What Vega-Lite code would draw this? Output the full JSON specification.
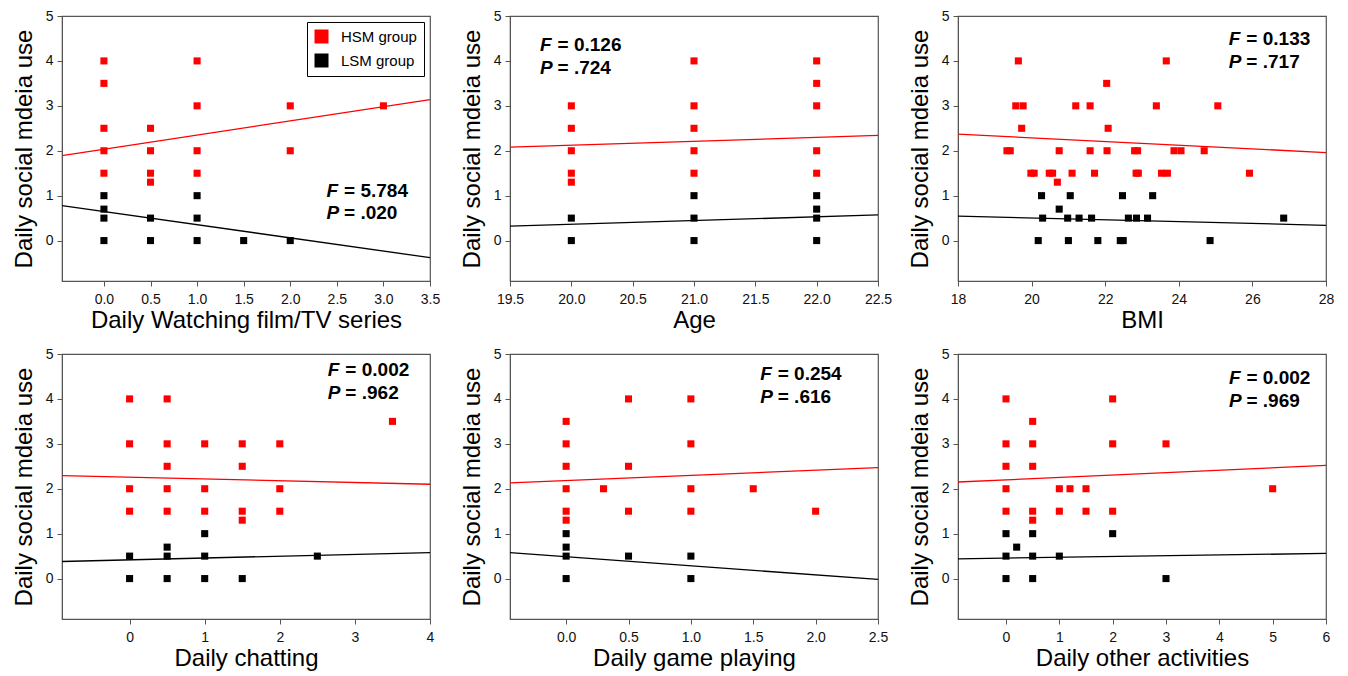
{
  "$schema": "https://vega.github.io/schema/vega-lite/v6.json",
  "padding": {"left": 11, "top": 8, "right": 5, "bottom": 5},
  "config": {
    "font": "Liberation Sans",
    "view": {"stroke": "#555", "strokeWidth": 1.2},
    "axis": {"grid": false, "domainColor": "#555", "tickColor": "#555", "tickSize": 5, "labelFontSize": 14, "labelColor": "#111", "titleFontSize": 24, "titleFontWeight": "normal", "titleColor": "#000", "labelFont": "Liberation Sans", "titleFont": "Liberation Sans", "labelOverlap": false, "labelFlush": false},
    "axisX": {"labelPadding": 6, "titlePadding": 2},
    "axisY": {"labelPadding": 4, "titlePadding": 9},
    "text": {"font": "Liberation Sans"}
  },
  "datasets": {
    "film": [
      {"group": "LSM group", "x": 0, "y": 1}, {"group": "LSM group", "x": 0, "y": 0.7}, {"group": "LSM group", "x": 0, "y": 0.5}, {"group": "LSM group", "x": 0, "y": 0},
      {"group": "LSM group", "x": 0.5, "y": 0.5}, {"group": "LSM group", "x": 0.5, "y": 0}, {"group": "LSM group", "x": 1, "y": 1}, {"group": "LSM group", "x": 1, "y": 0.5},
      {"group": "LSM group", "x": 1, "y": 0}, {"group": "LSM group", "x": 1.5, "y": 0}, {"group": "LSM group", "x": 2, "y": 0},
      {"group": "HSM group", "x": 0, "y": 4}, {"group": "HSM group", "x": 0, "y": 3.5}, {"group": "HSM group", "x": 0, "y": 2.5}, {"group": "HSM group", "x": 0, "y": 2},
      {"group": "HSM group", "x": 0, "y": 1.5}, {"group": "HSM group", "x": 0.5, "y": 2.5}, {"group": "HSM group", "x": 0.5, "y": 2}, {"group": "HSM group", "x": 0.5, "y": 1.5},
      {"group": "HSM group", "x": 0.5, "y": 1.3}, {"group": "HSM group", "x": 1, "y": 4}, {"group": "HSM group", "x": 1, "y": 3}, {"group": "HSM group", "x": 1, "y": 2},
      {"group": "HSM group", "x": 1, "y": 1.5}, {"group": "HSM group", "x": 2, "y": 3}, {"group": "HSM group", "x": 2, "y": 2}, {"group": "HSM group", "x": 3, "y": 3}
    ],
    "film_l": [
      {"group": "HSM group", "x": -0.45, "y": 1.89}, {"group": "HSM group", "x": 3.5, "y": 3.14},
      {"group": "LSM group", "x": -0.45, "y": 0.78}, {"group": "LSM group", "x": 3.5, "y": -0.38}
    ],
    "age": [
      {"group": "LSM group", "x": 20, "y": 0.5}, {"group": "LSM group", "x": 20, "y": 0}, {"group": "LSM group", "x": 21, "y": 1}, {"group": "LSM group", "x": 21, "y": 0.5},
      {"group": "LSM group", "x": 21, "y": 0}, {"group": "LSM group", "x": 22, "y": 1}, {"group": "LSM group", "x": 22, "y": 0.7}, {"group": "LSM group", "x": 22, "y": 0.5},
      {"group": "LSM group", "x": 22, "y": 0},
      {"group": "HSM group", "x": 20, "y": 3}, {"group": "HSM group", "x": 20, "y": 2.5}, {"group": "HSM group", "x": 20, "y": 2}, {"group": "HSM group", "x": 20, "y": 1.5},
      {"group": "HSM group", "x": 20, "y": 1.3}, {"group": "HSM group", "x": 21, "y": 4}, {"group": "HSM group", "x": 21, "y": 3}, {"group": "HSM group", "x": 21, "y": 2.5},
      {"group": "HSM group", "x": 21, "y": 2}, {"group": "HSM group", "x": 21, "y": 1.5}, {"group": "HSM group", "x": 22, "y": 4}, {"group": "HSM group", "x": 22, "y": 3.5},
      {"group": "HSM group", "x": 22, "y": 3}, {"group": "HSM group", "x": 22, "y": 2}, {"group": "HSM group", "x": 22, "y": 1.5}
    ],
    "age_l": [
      {"group": "HSM group", "x": 19.5, "y": 2.08}, {"group": "HSM group", "x": 22.5, "y": 2.34},
      {"group": "LSM group", "x": 19.5, "y": 0.32}, {"group": "LSM group", "x": 22.5, "y": 0.57}
    ],
    "bmi": [
      {"group": "LSM group", "x": 20.27, "y": 1}, {"group": "LSM group", "x": 20.3, "y": 0.5}, {"group": "LSM group", "x": 20.18, "y": 0}, {"group": "LSM group", "x": 20.75, "y": 0.7},
      {"group": "LSM group", "x": 21.05, "y": 1}, {"group": "LSM group", "x": 20.98, "y": 0.5}, {"group": "LSM group", "x": 21.0, "y": 0}, {"group": "LSM group", "x": 21.29, "y": 0.5},
      {"group": "LSM group", "x": 21.63, "y": 0.5}, {"group": "LSM group", "x": 21.8, "y": 0}, {"group": "LSM group", "x": 22.47, "y": 1}, {"group": "LSM group", "x": 22.41, "y": 0},
      {"group": "LSM group", "x": 22.49, "y": 0}, {"group": "LSM group", "x": 22.63, "y": 0.5}, {"group": "LSM group", "x": 22.85, "y": 0.5}, {"group": "LSM group", "x": 23.15, "y": 0.5},
      {"group": "LSM group", "x": 23.29, "y": 1}, {"group": "LSM group", "x": 24.85, "y": 0}, {"group": "LSM group", "x": 26.85, "y": 0.5},
      {"group": "HSM group", "x": 19.33, "y": 2}, {"group": "HSM group", "x": 19.42, "y": 2}, {"group": "HSM group", "x": 19.64, "y": 4}, {"group": "HSM group", "x": 19.57, "y": 3},
      {"group": "HSM group", "x": 19.77, "y": 3}, {"group": "HSM group", "x": 19.73, "y": 2.5}, {"group": "HSM group", "x": 19.98, "y": 1.5}, {"group": "HSM group", "x": 20.07, "y": 1.5},
      {"group": "HSM group", "x": 20.48, "y": 1.5}, {"group": "HSM group", "x": 20.57, "y": 1.5}, {"group": "HSM group", "x": 20.7, "y": 1.3}, {"group": "HSM group", "x": 20.75, "y": 2},
      {"group": "HSM group", "x": 21.1, "y": 1.5}, {"group": "HSM group", "x": 21.2, "y": 3}, {"group": "HSM group", "x": 21.59, "y": 3}, {"group": "HSM group", "x": 21.59, "y": 2},
      {"group": "HSM group", "x": 21.71, "y": 1.5}, {"group": "HSM group", "x": 22.04, "y": 3.5}, {"group": "HSM group", "x": 22.08, "y": 2.5}, {"group": "HSM group", "x": 22.05, "y": 2},
      {"group": "HSM group", "x": 22.8, "y": 2}, {"group": "HSM group", "x": 22.88, "y": 2}, {"group": "HSM group", "x": 22.84, "y": 1.5}, {"group": "HSM group", "x": 22.9, "y": 1.5},
      {"group": "HSM group", "x": 23.39, "y": 3}, {"group": "HSM group", "x": 23.66, "y": 4}, {"group": "HSM group", "x": 23.53, "y": 1.5}, {"group": "HSM group", "x": 23.69, "y": 1.5},
      {"group": "HSM group", "x": 23.87, "y": 2}, {"group": "HSM group", "x": 24.06, "y": 2}, {"group": "HSM group", "x": 24.69, "y": 2}, {"group": "HSM group", "x": 25.06, "y": 3},
      {"group": "HSM group", "x": 25.92, "y": 1.5}
    ],
    "bmi_l": [
      {"group": "HSM group", "x": 18, "y": 2.37}, {"group": "HSM group", "x": 28, "y": 1.96},
      {"group": "LSM group", "x": 18, "y": 0.545}, {"group": "LSM group", "x": 28, "y": 0.34}
    ],
    "chat": [
      {"group": "LSM group", "x": 0, "y": 0.5}, {"group": "LSM group", "x": 0, "y": 0}, {"group": "LSM group", "x": 0.5, "y": 0.7}, {"group": "LSM group", "x": 0.5, "y": 0.5},
      {"group": "LSM group", "x": 0.5, "y": 0}, {"group": "LSM group", "x": 1, "y": 1}, {"group": "LSM group", "x": 1, "y": 0.5}, {"group": "LSM group", "x": 1, "y": 0},
      {"group": "LSM group", "x": 1.5, "y": 0}, {"group": "LSM group", "x": 2.5, "y": 0.5},
      {"group": "HSM group", "x": 0, "y": 4}, {"group": "HSM group", "x": 0, "y": 3}, {"group": "HSM group", "x": 0, "y": 2}, {"group": "HSM group", "x": 0, "y": 1.5},
      {"group": "HSM group", "x": 0.5, "y": 4}, {"group": "HSM group", "x": 0.5, "y": 3}, {"group": "HSM group", "x": 0.5, "y": 2.5}, {"group": "HSM group", "x": 0.5, "y": 2},
      {"group": "HSM group", "x": 0.5, "y": 1.5}, {"group": "HSM group", "x": 1, "y": 3}, {"group": "HSM group", "x": 1, "y": 2}, {"group": "HSM group", "x": 1, "y": 1.5},
      {"group": "HSM group", "x": 1.5, "y": 3}, {"group": "HSM group", "x": 1.5, "y": 2.5}, {"group": "HSM group", "x": 1.5, "y": 1.5}, {"group": "HSM group", "x": 1.5, "y": 1.3},
      {"group": "HSM group", "x": 2, "y": 3}, {"group": "HSM group", "x": 2, "y": 2}, {"group": "HSM group", "x": 2, "y": 1.5}, {"group": "HSM group", "x": 3.5, "y": 3.5}
    ],
    "chat_l": [
      {"group": "HSM group", "x": -0.9, "y": 2.29}, {"group": "HSM group", "x": 4, "y": 2.1},
      {"group": "LSM group", "x": -0.9, "y": 0.38}, {"group": "LSM group", "x": 4, "y": 0.58}
    ],
    "game": [
      {"group": "LSM group", "x": 0, "y": 1}, {"group": "LSM group", "x": 0, "y": 0.7}, {"group": "LSM group", "x": 0, "y": 0.5}, {"group": "LSM group", "x": 0, "y": 0},
      {"group": "LSM group", "x": 0.5, "y": 0.5}, {"group": "LSM group", "x": 1, "y": 0.5}, {"group": "LSM group", "x": 1, "y": 0},
      {"group": "HSM group", "x": 0, "y": 3.5}, {"group": "HSM group", "x": 0, "y": 3}, {"group": "HSM group", "x": 0, "y": 2.5}, {"group": "HSM group", "x": 0, "y": 2},
      {"group": "HSM group", "x": 0, "y": 1.5}, {"group": "HSM group", "x": 0, "y": 1.3}, {"group": "HSM group", "x": 0.3, "y": 2}, {"group": "HSM group", "x": 0.5, "y": 4},
      {"group": "HSM group", "x": 0.5, "y": 2.5}, {"group": "HSM group", "x": 0.5, "y": 1.5}, {"group": "HSM group", "x": 1, "y": 4}, {"group": "HSM group", "x": 1, "y": 3},
      {"group": "HSM group", "x": 1, "y": 2}, {"group": "HSM group", "x": 1, "y": 1.5}, {"group": "HSM group", "x": 1.5, "y": 2}, {"group": "HSM group", "x": 2, "y": 1.5}
    ],
    "game_l": [
      {"group": "HSM group", "x": -0.45, "y": 2.13}, {"group": "HSM group", "x": 2.5, "y": 2.47},
      {"group": "LSM group", "x": -0.45, "y": 0.58}, {"group": "LSM group", "x": 2.5, "y": -0.02}
    ],
    "other": [
      {"group": "LSM group", "x": 0, "y": 1}, {"group": "LSM group", "x": 0, "y": 0.5}, {"group": "LSM group", "x": 0, "y": 0}, {"group": "LSM group", "x": 0.2, "y": 0.7},
      {"group": "LSM group", "x": 0.5, "y": 1}, {"group": "LSM group", "x": 0.5, "y": 0.5}, {"group": "LSM group", "x": 0.5, "y": 0}, {"group": "LSM group", "x": 1, "y": 0.5},
      {"group": "LSM group", "x": 2, "y": 1}, {"group": "LSM group", "x": 3, "y": 0},
      {"group": "HSM group", "x": 0, "y": 4}, {"group": "HSM group", "x": 0, "y": 3}, {"group": "HSM group", "x": 0, "y": 2.5}, {"group": "HSM group", "x": 0, "y": 2},
      {"group": "HSM group", "x": 0, "y": 1.5}, {"group": "HSM group", "x": 0.5, "y": 3.5}, {"group": "HSM group", "x": 0.5, "y": 3}, {"group": "HSM group", "x": 0.5, "y": 2.5},
      {"group": "HSM group", "x": 0.5, "y": 1.5}, {"group": "HSM group", "x": 0.5, "y": 1.3}, {"group": "HSM group", "x": 1, "y": 2}, {"group": "HSM group", "x": 1, "y": 1.5},
      {"group": "HSM group", "x": 1.2, "y": 2}, {"group": "HSM group", "x": 1.5, "y": 2}, {"group": "HSM group", "x": 1.5, "y": 1.5}, {"group": "HSM group", "x": 2, "y": 4},
      {"group": "HSM group", "x": 2, "y": 3}, {"group": "HSM group", "x": 2, "y": 1.5}, {"group": "HSM group", "x": 3, "y": 3}, {"group": "HSM group", "x": 5, "y": 2}
    ],
    "other_l": [
      {"group": "HSM group", "x": -0.9, "y": 2.15}, {"group": "HSM group", "x": 6, "y": 2.52},
      {"group": "LSM group", "x": -0.9, "y": 0.44}, {"group": "LSM group", "x": 6, "y": 0.56}
    ]
  },
  "columns": 3,
  "spacing": {"row": 73, "column": 80},
  "bounds": "flush",
  "resolve": {"scale": {"color": "independent", "stroke": "independent"}, "legend": {"color": "independent", "stroke": "independent"}},
  "concat": [
    {
      "width": 368, "height": 265,
      "layer": [
        {"data": {"name": "film"}, "mark": {"type": "square", "size": 50, "opacity": 1},
         "encoding": {
           "x": {"field": "x", "type": "quantitative", "scale": {"domain": [-0.45, 3.5], "nice": false, "zero": false}, "axis": {"values": [0, 0.5, 1, 1.5, 2, 2.5, 3, 3.5], "format": ".1f", "title": "Daily Watching film/TV series"}},
           "y": {"field": "y", "type": "quantitative", "scale": {"domain": [-0.9, 5], "nice": false, "zero": false}, "axis": {"values": [0, 1, 2, 3, 4, 5], "format": "d", "title": "Daily social mdeia use"}},
           "color": {"field": "group", "type": "nominal", "scale": {"domain": ["HSM group", "LSM group"], "range": ["#ff0000", "#000000"]},
             "legend": {"title": null, "orient": "top-right", "offset": 6, "strokeColor": "#000", "fillColor": "#fff", "padding": 7, "symbolType": "square", "symbolSize": 196, "symbolStrokeWidth": 0, "symbolOpacity": 1, "labelFontSize": 15, "labelFont": "Liberation Sans", "labelColor": "#000", "labelOffset": 12, "rowPadding": 8}}
         }},
        {"data": {"name": "film_l"}, "mark": {"type": "line", "strokeWidth": 1.3},
         "encoding": {
           "x": {"field": "x", "type": "quantitative"},
           "y": {"field": "y", "type": "quantitative"},
           "stroke": {"field": "group", "type": "nominal", "scale": {"domain": ["HSM group", "LSM group"], "range": ["#ff0000", "#000000"]}, "legend": null}
         }},
        {"data": {"values": [{}]}, "mark": {"type": "text", "fontStyle": "italic", "fontWeight": "bold", "fontSize": 19, "align": "left", "baseline": "alphabetic", "lineHeight": 22.5},
         "encoding": {"x": {"datum": 2.39}, "y": {"datum": 0.98}, "text": {"value": ["F", "P"]}}},
        {"data": {"values": [{}]}, "mark": {"type": "text", "fontWeight": "bold", "fontSize": 19, "align": "left", "baseline": "alphabetic", "lineHeight": 22.5, "dx": 17.5},
         "encoding": {"x": {"datum": 2.39}, "y": {"datum": 0.98}, "text": {"value": ["= 5.784", "= .020"]}}}
      ]
    },
    {
      "width": 368, "height": 265,
      "layer": [
        {"data": {"name": "age"}, "mark": {"type": "square", "size": 50, "opacity": 1},
         "encoding": {
           "x": {"field": "x", "type": "quantitative", "scale": {"domain": [19.5, 22.5], "nice": false, "zero": false}, "axis": {"values": [19.5, 20, 20.5, 21, 21.5, 22, 22.5], "format": ".1f", "title": "Age"}},
           "y": {"field": "y", "type": "quantitative", "scale": {"domain": [-0.9, 5], "nice": false, "zero": false}, "axis": {"values": [0, 1, 2, 3, 4, 5], "format": "d", "title": "Daily social mdeia use"}},
           "color": {"field": "group", "type": "nominal", "scale": {"domain": ["HSM group", "LSM group"], "range": ["#ff0000", "#000000"]}, "legend": null}
         }},
        {"data": {"name": "age_l"}, "mark": {"type": "line", "strokeWidth": 1.3},
         "encoding": {
           "x": {"field": "x", "type": "quantitative"},
           "y": {"field": "y", "type": "quantitative"},
           "stroke": {"field": "group", "type": "nominal", "scale": {"domain": ["HSM group", "LSM group"], "range": ["#ff0000", "#000000"]}, "legend": null}
         }},
        {"data": {"values": [{}]}, "mark": {"type": "text", "fontStyle": "italic", "fontWeight": "bold", "fontSize": 19, "align": "left", "baseline": "alphabetic", "lineHeight": 22.5},
         "encoding": {"x": {"datum": 19.745}, "y": {"datum": 4.22}, "text": {"value": ["F", "P"]}}},
        {"data": {"values": [{}]}, "mark": {"type": "text", "fontWeight": "bold", "fontSize": 19, "align": "left", "baseline": "alphabetic", "lineHeight": 22.5, "dx": 17.5},
         "encoding": {"x": {"datum": 19.745}, "y": {"datum": 4.22}, "text": {"value": ["= 0.126", "= .724"]}}}
      ]
    },
    {
      "width": 368, "height": 265,
      "layer": [
        {"data": {"name": "bmi"}, "mark": {"type": "square", "size": 50, "opacity": 1},
         "encoding": {
           "x": {"field": "x", "type": "quantitative", "scale": {"domain": [18, 28], "nice": false, "zero": false}, "axis": {"values": [18, 20, 22, 24, 26, 28], "format": "d", "title": "BMI"}},
           "y": {"field": "y", "type": "quantitative", "scale": {"domain": [-0.9, 5], "nice": false, "zero": false}, "axis": {"values": [0, 1, 2, 3, 4, 5], "format": "d", "title": "Daily social mdeia use"}},
           "color": {"field": "group", "type": "nominal", "scale": {"domain": ["HSM group", "LSM group"], "range": ["#ff0000", "#000000"]}, "legend": null}
         }},
        {"data": {"name": "bmi_l"}, "mark": {"type": "line", "strokeWidth": 1.3},
         "encoding": {
           "x": {"field": "x", "type": "quantitative"},
           "y": {"field": "y", "type": "quantitative"},
           "stroke": {"field": "group", "type": "nominal", "scale": {"domain": ["HSM group", "LSM group"], "range": ["#ff0000", "#000000"]}, "legend": null}
         }},
        {"data": {"values": [{}]}, "mark": {"type": "text", "fontStyle": "italic", "fontWeight": "bold", "fontSize": 19, "align": "left", "baseline": "alphabetic", "lineHeight": 22.5},
         "encoding": {"x": {"datum": 25.36}, "y": {"datum": 4.35}, "text": {"value": ["F", "P"]}}},
        {"data": {"values": [{}]}, "mark": {"type": "text", "fontWeight": "bold", "fontSize": 19, "align": "left", "baseline": "alphabetic", "lineHeight": 22.5, "dx": 17.5},
         "encoding": {"x": {"datum": 25.36}, "y": {"datum": 4.35}, "text": {"value": ["= 0.133", "= .717"]}}}
      ]
    },
    {
      "width": 368, "height": 265,
      "layer": [
        {"data": {"name": "chat"}, "mark": {"type": "square", "size": 50, "opacity": 1},
         "encoding": {
           "x": {"field": "x", "type": "quantitative", "scale": {"domain": [-0.9, 4], "nice": false, "zero": false}, "axis": {"values": [0, 1, 2, 3, 4], "format": "d", "title": "Daily chatting"}},
           "y": {"field": "y", "type": "quantitative", "scale": {"domain": [-0.9, 5], "nice": false, "zero": false}, "axis": {"values": [0, 1, 2, 3, 4, 5], "format": "d", "title": "Daily social mdeia use"}},
           "color": {"field": "group", "type": "nominal", "scale": {"domain": ["HSM group", "LSM group"], "range": ["#ff0000", "#000000"]}, "legend": null}
         }},
        {"data": {"name": "chat_l"}, "mark": {"type": "line", "strokeWidth": 1.3},
         "encoding": {
           "x": {"field": "x", "type": "quantitative"},
           "y": {"field": "y", "type": "quantitative"},
           "stroke": {"field": "group", "type": "nominal", "scale": {"domain": ["HSM group", "LSM group"], "range": ["#ff0000", "#000000"]}, "legend": null}
         }},
        {"data": {"values": [{}]}, "mark": {"type": "text", "fontStyle": "italic", "fontWeight": "bold", "fontSize": 19, "align": "left", "baseline": "alphabetic", "lineHeight": 22.5},
         "encoding": {"x": {"datum": 2.64}, "y": {"datum": 4.5}, "text": {"value": ["F", "P"]}}},
        {"data": {"values": [{}]}, "mark": {"type": "text", "fontWeight": "bold", "fontSize": 19, "align": "left", "baseline": "alphabetic", "lineHeight": 22.5, "dx": 17.5},
         "encoding": {"x": {"datum": 2.64}, "y": {"datum": 4.5}, "text": {"value": ["= 0.002", "= .962"]}}}
      ]
    },
    {
      "width": 368, "height": 265,
      "layer": [
        {"data": {"name": "game"}, "mark": {"type": "square", "size": 50, "opacity": 1},
         "encoding": {
           "x": {"field": "x", "type": "quantitative", "scale": {"domain": [-0.45, 2.5], "nice": false, "zero": false}, "axis": {"values": [0, 0.5, 1, 1.5, 2, 2.5], "format": ".1f", "title": "Daily game playing"}},
           "y": {"field": "y", "type": "quantitative", "scale": {"domain": [-0.9, 5], "nice": false, "zero": false}, "axis": {"values": [0, 1, 2, 3, 4, 5], "format": "d", "title": "Daily social mdeia use"}},
           "color": {"field": "group", "type": "nominal", "scale": {"domain": ["HSM group", "LSM group"], "range": ["#ff0000", "#000000"]}, "legend": null}
         }},
        {"data": {"name": "game_l"}, "mark": {"type": "line", "strokeWidth": 1.3},
         "encoding": {
           "x": {"field": "x", "type": "quantitative"},
           "y": {"field": "y", "type": "quantitative"},
           "stroke": {"field": "group", "type": "nominal", "scale": {"domain": ["HSM group", "LSM group"], "range": ["#ff0000", "#000000"]}, "legend": null}
         }},
        {"data": {"values": [{}]}, "mark": {"type": "text", "fontStyle": "italic", "fontWeight": "bold", "fontSize": 19, "align": "left", "baseline": "alphabetic", "lineHeight": 22.5},
         "encoding": {"x": {"datum": 1.556}, "y": {"datum": 4.42}, "text": {"value": ["F", "P"]}}},
        {"data": {"values": [{}]}, "mark": {"type": "text", "fontWeight": "bold", "fontSize": 19, "align": "left", "baseline": "alphabetic", "lineHeight": 22.5, "dx": 17.5},
         "encoding": {"x": {"datum": 1.556}, "y": {"datum": 4.42}, "text": {"value": ["= 0.254", "= .616"]}}}
      ]
    },
    {
      "width": 368, "height": 265,
      "layer": [
        {"data": {"name": "other"}, "mark": {"type": "square", "size": 50, "opacity": 1},
         "encoding": {
           "x": {"field": "x", "type": "quantitative", "scale": {"domain": [-0.9, 6], "nice": false, "zero": false}, "axis": {"values": [0, 1, 2, 3, 4, 5, 6], "format": "d", "title": "Daily other activities"}},
           "y": {"field": "y", "type": "quantitative", "scale": {"domain": [-0.9, 5], "nice": false, "zero": false}, "axis": {"values": [0, 1, 2, 3, 4, 5], "format": "d", "title": "Daily social mdeia use"}},
           "color": {"field": "group", "type": "nominal", "scale": {"domain": ["HSM group", "LSM group"], "range": ["#ff0000", "#000000"]}, "legend": null}
         }},
        {"data": {"name": "other_l"}, "mark": {"type": "line", "strokeWidth": 1.3},
         "encoding": {
           "x": {"field": "x", "type": "quantitative"},
           "y": {"field": "y", "type": "quantitative"},
           "stroke": {"field": "group", "type": "nominal", "scale": {"domain": ["HSM group", "LSM group"], "range": ["#ff0000", "#000000"]}, "legend": null}
         }},
        {"data": {"values": [{}]}, "mark": {"type": "text", "fontStyle": "italic", "fontWeight": "bold", "fontSize": 19, "align": "left", "baseline": "alphabetic", "lineHeight": 22.5},
         "encoding": {"x": {"datum": 4.18}, "y": {"datum": 4.33}, "text": {"value": ["F", "P"]}}},
        {"data": {"values": [{}]}, "mark": {"type": "text", "fontWeight": "bold", "fontSize": 19, "align": "left", "baseline": "alphabetic", "lineHeight": 22.5, "dx": 17.5},
         "encoding": {"x": {"datum": 4.18}, "y": {"datum": 4.33}, "text": {"value": ["= 0.002", "= .969"]}}}
      ]
    }
  ]
}
